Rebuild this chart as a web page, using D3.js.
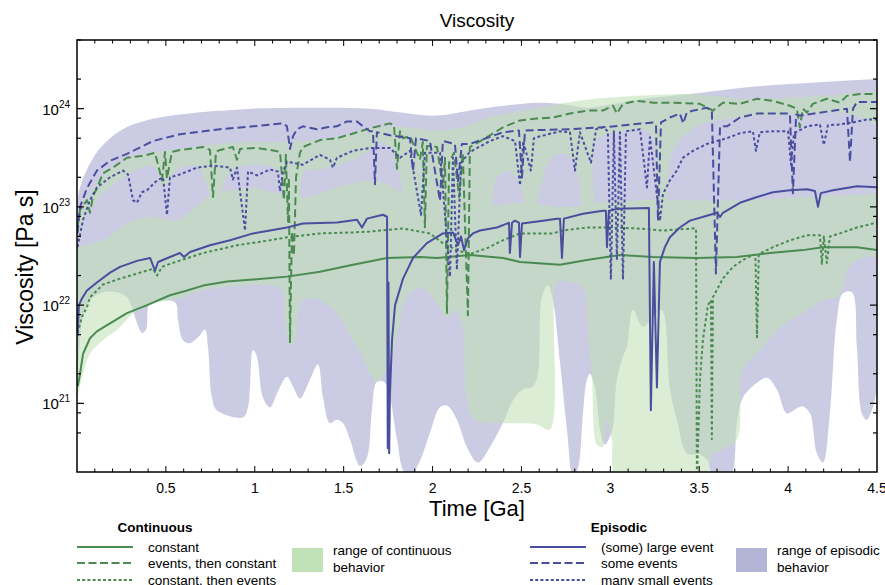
<!DOCTYPE html>
<html>
<head>
<meta charset="utf-8">
<script src="https://cdn.jsdelivr.net/npm/d3@7"></script>
<style>
  body { margin: 0; background: #fff; }
  svg { font-family: "Liberation Sans", Arial, Helvetica, sans-serif; }
</style>
</head>
<body>
<svg id="chart" width="885" height="585"></svg>
<script>
// ---- data: [time Ga, viscosity Pa s] ----
const greenConstant = [[0.005,1.5e21],[0.017,2.0e21],[0.034,3.2e21],[0.073,4.6e21],[0.112,5.4e21],[0.146,5.9e21],[0.202,6.8e21],[0.281,8.3e21],[0.394,1.0e22],[0.523,1.26e22],[0.619,1.41e22],[0.709,1.58e22],[0.844,1.74e22],[0.99,1.82e22],[1.181,1.95e22],[1.367,2.19e22],[1.552,2.57e22],[1.744,3.02e22],[1.929,3.09e22],[2.025,3.02e22],[2.21,3.24e22],[2.396,3.02e22],[2.492,2.75e22],[2.717,2.57e22],[2.868,2.88e22],[3.054,3.24e22],[3.24,3.09e22],[3.487,3.02e22],[3.712,3.09e22],[3.898,3.39e22],[4.083,3.63e22],[4.196,3.89e22],[4.387,3.89e22],[4.5,3.63e22]];

const greenEventsThenConst = [[0.003,6.3e22],[0.017,9.3e22],[0.056,1.17e23],[0.073,8.7e22],[0.09,1.29e23],[0.112,1.55e23],[0.146,2.19e23],[0.202,2.51e23],[0.281,3.16e23],[0.371,3.31e23],[0.439,3.55e23],[0.478,1.86e23],[0.495,3.63e23],[0.506,1.95e23],[0.534,3.63e23],[0.579,3.8e23],[0.709,4.07e23],[0.748,3.8e23],[0.765,1.26e23],[0.782,3.63e23],[0.804,3.8e23],[0.877,4.07e23],[0.9,3.02e23],[0.917,3.89e23],[1.012,3.98e23],[1.086,3.8e23],[1.142,3.63e23],[1.164,1.17e23],[1.175,3.39e23],[1.187,7.1e22],[1.192,2.0e23],[1.198,4.2e21],[1.209,5.6e22],[1.22,3.2e22],[1.232,2.0e23],[1.254,3.55e23],[1.271,4.07e23],[1.367,4.79e23],[1.462,5.0e23],[1.575,5.75e23],[1.648,6.31e23],[1.76,7.08e23],[1.783,6.8e23],[1.8,2.45e23],[1.817,5.9e23],[1.834,5.0e23],[1.873,5.25e23],[1.929,3.02e23],[1.945,4.57e23],[1.957,6.2e22],[1.968,4.17e23],[2.025,4.07e23],[2.058,1.58e23],[2.07,3.16e23],[2.081,8.3e21],[2.093,2.82e23],[2.12,3.55e23],[2.15,1.26e23],[2.17,3.55e23],[2.199,7.9e21],[2.21,4.07e23],[2.306,5.13e23],[2.396,6.46e23],[2.492,7.59e23],[2.587,7.94e23],[2.677,8.13e23],[2.773,8.91e23],[2.868,9.55e23],[2.958,9.55e23],[3.015,1.07e24],[3.037,8.91e23],[3.071,1.12e24],[3.15,1.2e24],[3.24,1.15e24],[3.352,1.15e24],[3.504,1.12e24],[3.577,9.55e23],[3.633,1.15e24],[3.729,1.12e24],[3.825,1.26e24],[3.915,1.2e24],[4.01,1.07e24],[4.049,1.0e24],[4.066,6.46e23],[4.083,1.0e24],[4.106,9.12e23],[4.139,1.12e24],[4.218,1.26e24],[4.291,1.15e24],[4.331,1.35e24],[4.404,1.41e24],[4.5,1.41e24]];

const greenConstThenEvents = [[0.003,5.2e21],[0.028,7.6e21],[0.056,9.5e21],[0.073,1.2e22],[0.112,1.41e22],[0.146,1.62e22],[0.242,1.86e22],[0.427,2.34e22],[0.45,2.0e22],[0.478,2.45e22],[0.523,2.63e22],[0.709,3.39e22],[0.9,4.07e22],[1.086,4.57e22],[1.181,4.9e22],[1.367,5.37e22],[1.552,5.5e22],[1.648,5.62e22],[1.834,6.03e22],[1.985,5.37e22],[2.058,4.27e22],[2.137,3.63e22],[2.21,3.31e22],[2.306,3.8e22],[2.396,4.57e22],[2.492,5.37e22],[2.677,5.37e22],[2.733,5.75e22],[2.868,6.17e22],[2.998,6.17e22],[3.15,6.03e22],[3.296,5.75e22],[3.465,6.03e22],[3.482,6.0e22],[3.487,1.6e20],[3.504,1.74e21],[3.521,4.47e21],[3.549,1.0e22],[3.566,1.12e22],[3.571,4.3e20],[3.577,1.2e22],[3.633,1.86e22],[3.69,2.45e22],[3.746,2.88e22],[3.802,3.24e22],[3.816,3.24e22],[3.825,4.7e21],[3.835,3.31e22],[3.915,3.89e22],[4.01,4.57e22],[4.106,5.13e22],[4.179,5.13e22],[4.19,2.63e22],[4.201,5.0e22],[4.218,2.69e22],[4.235,5.0e22],[4.291,5.37e22],[4.387,6.17e22],[4.5,6.92e22]];

const blueLargeEvent = [[0.003,4.9e21],[0.011,1.0e22],[0.028,1.17e22],[0.056,1.41e22],[0.112,1.7e22],[0.186,2.14e22],[0.242,2.45e22],[0.337,2.82e22],[0.411,3.02e22],[0.439,2.24e22],[0.456,2.75e22],[0.523,3.09e22],[0.579,3.39e22],[0.602,3.09e22],[0.636,3.47e22],[0.748,4.07e22],[0.861,4.57e22],[0.99,5.37e22],[1.086,5.75e22],[1.181,6.17e22],[1.271,6.76e22],[1.462,6.92e22],[1.575,7.41e22],[1.603,6.17e22],[1.631,7.59e22],[1.721,8.32e22],[1.744,7.94e22],[1.748,3.5e20],[1.752,1.7e22],[1.756,3.1e20],[1.76,1.2e21],[1.772,4.4e21],[1.789,1.0e22],[1.834,1.86e22],[1.89,3.02e22],[1.968,4.27e22],[2.058,5.37e22],[2.115,5.5e22],[2.143,4.07e22],[2.16,5.0e22],[2.177,3.63e22],[2.199,4.8e22],[2.227,5.37e22],[2.267,5.75e22],[2.362,6.17e22],[2.418,6.76e22],[2.43,6.9e22],[2.435,3.39e22],[2.447,6.9e22],[2.463,7.24e22],[2.486,6.9e22],[2.492,3.09e22],[2.503,6.76e22],[2.621,7.24e22],[2.7,7.59e22],[2.717,7.59e22],[2.728,3.02e22],[2.739,7.59e22],[2.846,8.51e22],[2.958,9.12e22],[2.975,9.12e22],[2.981,3.89e22],[2.992,9.12e22],[3.037,9.55e22],[3.217,9.77e22],[3.228,8.5e20],[3.245,2.75e22],[3.262,1.45e21],[3.279,2.75e22],[3.307,3.89e22],[3.335,4.9e22],[3.391,6.17e22],[3.448,7.24e22],[3.543,8.13e22],[3.6,8.71e22],[3.617,7.9e22],[3.633,8.71e22],[3.729,1.1e23],[3.825,1.26e23],[3.915,1.41e23],[4.01,1.48e23],[4.106,1.51e23],[4.151,1.45e23],[4.168,1.0e23],[4.184,1.38e23],[4.252,1.48e23],[4.387,1.62e23],[4.5,1.58e23]];

const blueSomeEvents = [[0.003,5.4e22],[0.017,1.0e23],[0.056,1.55e23],[0.112,2.34e23],[0.186,2.95e23],[0.281,3.47e23],[0.427,4.68e23],[0.579,5.5e23],[0.804,6.17e23],[0.99,6.61e23],[1.159,7.08e23],[1.181,6.61e23],[1.198,3.89e23],[1.215,5.25e23],[1.237,6.17e23],[1.271,6.61e23],[1.35,6.17e23],[1.406,6.46e23],[1.462,6.61e23],[1.519,7.41e23],[1.575,7.41e23],[1.609,6.61e23],[1.648,5.89e23],[1.665,5.89e23],[1.676,1.7e23],[1.687,5.75e23],[1.76,5.37e23],[1.873,5.0e23],[1.89,2.34e23],[1.907,5.0e23],[1.985,4.68e23],[2.042,1.15e23],[2.058,4.68e23],[2.126,4.37e23],[2.143,1.82e23],[2.165,4.37e23],[2.21,4.37e23],[2.396,5.75e23],[2.486,6.0e23],[2.503,2.0e23],[2.52,6.0e23],[2.773,6.17e23],[2.958,6.46e23],[3.24,7.24e23],[3.257,6.76e23],[3.268,7.2e22],[3.285,7.24e23],[3.335,8.13e23],[3.391,8.91e23],[3.41,7.08e23],[3.43,9.12e23],[3.465,9.55e23],[3.543,1.02e24],[3.571,9.55e23],[3.594,2.1e22],[3.617,6.61e23],[3.656,6.61e23],[3.729,8.13e23],[3.825,8.91e23],[4.01,8.91e23],[4.027,1.38e23],[4.045,8.7e23],[4.066,8.51e23],[4.218,9.33e23],[4.331,1.0e24],[4.348,2.88e23],[4.365,1.0e24],[4.387,1.17e24],[4.5,1.17e24]];

const blueManySmall = [[0.003,3.9e22],[0.034,7.4e22],[0.073,1.17e23],[0.112,1.58e23],[0.186,2.0e23],[0.259,2.34e23],[0.287,2.14e23],[0.315,1.17e23],[0.337,1.1e23],[0.365,1.41e23],[0.394,1.48e23],[0.45,1.86e23],[0.484,2.0e23],[0.506,8.3e22],[0.523,2.0e23],[0.579,2.14e23],[0.675,2.51e23],[0.765,2.63e23],[0.861,2.51e23],[0.877,1.9e23],[0.9,2.51e23],[0.945,5.75e22],[0.962,2.29e23],[1.012,2.09e23],[1.086,2.4e23],[1.13,2.29e23],[1.142,1.45e23],[1.159,2.29e23],[1.181,2.88e23],[1.271,2.69e23],[1.367,3.39e23],[1.423,3.02e23],[1.44,2.51e23],[1.462,3.16e23],[1.552,3.72e23],[1.648,3.98e23],[1.76,3.98e23],[1.817,3.16e23],[1.873,3.72e23],[1.935,8.3e22],[1.957,3.55e23],[2.042,3.55e23],[2.098,1.95e22],[2.115,3.16e23],[2.137,2.29e22],[2.16,2.82e23],[2.21,3.63e23],[2.323,4.68e23],[2.396,5.25e23],[2.464,4.68e23],[2.492,1.66e23],[2.51,4.68e23],[2.553,2.34e23],[2.57,5.0e23],[2.587,5.13e23],[2.717,5.89e23],[2.773,5.75e23],[2.801,2.34e23],[2.829,5.75e23],[2.891,2.82e23],[2.92,6.17e23],[2.958,6.46e23],[2.986,5.89e23],[3.003,1.82e22],[3.02,5.89e23],[3.037,2.88e22],[3.054,5.75e23],[3.071,1.82e22],[3.088,5.89e23],[3.167,6.17e23],[3.206,1.58e23],[3.223,5.13e23],[3.279,7.2e22],[3.296,1.35e23],[3.335,1.86e23],[3.374,2.34e23],[3.408,3.16e23],[3.465,3.72e23],[3.543,4.37e23],[3.6,4.68e23],[3.656,5.0e23],[3.729,5.62e23],[3.802,5.89e23],[3.819,3.72e23],[3.841,5.75e23],[3.915,5.89e23],[4.0,5.89e23],[4.016,2.69e23],[4.033,5.62e23],[4.106,6.61e23],[4.179,6.92e23],[4.201,4.27e23],[4.224,6.76e23],[4.291,6.92e23],[4.365,7.24e23],[4.444,7.76e23],[4.5,7.76e23]];

// range bands (upper / lower boundaries)
const episodicTop = [[0,1.1e23],[0.017,1.58e23],[0.056,2.4e23],[0.112,3.6e23],[0.186,5.0e23],[0.281,6.5e23],[0.427,7.9e23],[0.619,8.9e23],[0.804,9.5e23],[0.99,1.0e24],[1.367,1.02e24],[1.648,1.0e24],[1.834,9.1e23],[2.025,8.5e23],[2.21,9.6e23],[2.396,1.07e24],[2.587,1.15e24],[2.717,1.12e24],[2.868,1.02e24],[2.958,1.07e24],[3.15,1.23e24],[3.352,1.35e24],[3.543,1.48e24],[3.729,1.62e24],[3.915,1.74e24],[4.106,1.82e24],[4.291,1.91e24],[4.5,2.0e24]];

const episodicBottom = [[0,1.38e21],[0.017,4.4e21],[0.034,7.9e21],[0.073,1.12e22],[0.146,1.35e22],[0.225,1.35e22],[0.281,1.2e22],[0.309,9.5e21],[0.337,6.6e21],[0.366,5.2e21],[0.388,5.6e21],[0.399,9.5e21],[0.411,1.05e22],[0.551,1.07e22],[0.568,7.1e21],[0.596,4.4e21],[0.636,4.1e21],[0.681,4.7e21],[0.72,5.6e21],[0.737,3.7e21],[0.759,1.15e21],[0.787,8.5e20],[0.934,7.2e20],[0.962,9.1e20],[0.99,3.5e21],[1.012,3.0e21],[1.046,1.15e21],[1.086,9.1e20],[1.125,1.26e21],[1.181,1.86e21],[1.215,1.48e21],[1.254,1.12e21],[1.31,1.74e21],[1.355,2.5e21],[1.384,1.15e21],[1.423,6.3e20],[1.462,6.8e20],[1.496,6.3e20],[1.535,4.3e20],[1.592,2.3e20],[1.631,2.8e20],[1.659,8.5e20],[1.687,1.66e21],[1.732,1.62e21],[1.8,4.3e20],[1.834,2.1e20],[1.873,1.8e20],[1.929,2.6e20],[1.985,5.0e20],[2.042,9.1e20],[2.081,9.5e20],[2.137,6.8e20],[2.193,3.6e20],[2.255,2.5e20],[2.323,3.6e20],[2.396,6.3e20],[2.452,1.07e21],[2.508,1.38e21],[2.565,1.48e21],[2.593,2.0e21],[2.615,1.2e22],[2.649,1.6e22],[2.677,1.12e22],[2.717,2.6e21],[2.756,5.4e20],[2.79,1.8e20],[2.818,2.2e20],[2.846,7.9e20],[2.868,1.74e21],[2.885,2.0e21],[2.913,1.48e21],[2.942,5.4e20],[2.97,3.8e20],[2.998,4.6e20],[3.015,5.8e20],[3.037,1.74e21],[3.071,3.0e21],[3.093,3.7e21],[3.127,8.9e21],[3.183,6.0e21],[3.24,7.6e21],[3.29,8.9e21],[3.335,1.38e21],[3.375,6.8e20],[3.431,3.1e20],[3.504,3.0e20],[3.549,2.6e20],[3.571,1.8e20],[3.673,1.8e20],[3.712,6.3e20],[3.746,1.15e21],[3.825,1.62e21],[3.881,1.82e21],[3.937,1.38e21],[3.993,7.9e20],[4.05,8.9e20],[4.083,9.3e20],[4.123,7.9e20],[4.162,3.1e20],[4.196,2.5e20],[4.235,7.9e20],[4.274,7.1e21],[4.308,1.32e22],[4.359,1.35e22],[4.387,3.7e21],[4.415,7.9e20],[4.443,6.8e20],[4.477,9.1e20],[4.5,1.38e21]];

const contUpperTop = [[0,6.5e22],[0.017,8.3e22],[0.073,1.32e23],[0.129,1.95e23],[0.242,2.8e23],[0.354,3.4e23],[0.523,3.8e23],[0.709,4.2e23],[0.9,4.5e23],[1.181,4.6e23],[1.462,5.1e23],[1.648,6.3e23],[1.834,6.5e23],[2.025,6.0e23],[2.171,6.5e23],[2.306,8.1e23],[2.396,8.7e23],[2.548,9.8e23],[2.7,1.11e24],[2.868,1.23e24],[3.054,1.32e24],[3.24,1.38e24],[3.448,1.41e24],[3.617,1.32e24],[3.729,1.26e24],[4.106,1.32e24],[4.387,1.45e24],[4.5,1.48e24]];

const contUpperBottom = [[0,4.1e22],[0.034,7.4e22],[0.112,1.17e23],[0.186,1.58e23],[0.337,2.4e23],[0.411,2.6e23],[0.45,2.4e23],[0.484,1.58e23],[0.523,1.86e23],[0.562,2.4e23],[0.675,2.6e23],[0.72,1.86e23],[0.748,1.38e23],[0.787,1.17e23],[0.821,1.66e23],[0.861,2.2e23],[0.934,2.6e23],[1.086,2.6e23],[1.142,2.2e23],[1.159,1.17e23],[1.181,5.0e21],[1.215,3.9e21],[1.237,5.6e21],[1.254,1.17e23],[1.282,2.3e23],[1.367,2.4e23],[1.552,3.0e23],[1.648,3.8e23],[1.704,4.5e23],[1.76,4.1e23],[1.817,2.1e23],[1.873,3.6e22],[2.042,2.9e22],[2.21,3.6e22],[2.323,7.4e22],[2.362,2.0e23],[2.435,2.3e23],[2.492,1.66e23],[2.548,5.8e22],[2.604,1.48e23],[2.66,3.0e23],[2.717,3.5e23],[2.773,3.2e23],[2.818,2.1e23],[2.857,6.5e22],[2.902,5.8e22],[2.925,4.8e23],[3.054,5.8e23],[3.223,5.65e23],[3.268,1.05e23],[3.307,9.3e22],[3.352,3.8e23],[3.504,6.8e23],[3.729,8.1e23],[4.066,8.7e23],[4.291,9.1e23],[4.404,8.1e23],[4.5,6.8e23]];

const contLowerTop = [[0,3.9e22],[0.146,4.6e22],[0.298,7.1e22],[0.411,7.9e22],[0.562,7.4e22],[0.709,1.17e23],[0.765,1.38e23],[0.861,1.48e23],[0.99,1.58e23],[1.125,1.38e23],[1.271,1.26e23],[1.367,1.38e23],[1.462,1.58e23],[1.648,1.86e23],[1.76,1.66e23],[1.873,1.17e23],[2.042,1.17e23],[2.21,1.1e23],[2.362,1.05e23],[2.492,1.1e23],[2.604,1.05e23],[2.717,1.0e23],[2.829,1.02e23],[2.942,1.1e23],[3.167,1.17e23],[3.352,1.17e23],[3.729,1.17e23],[4.106,1.26e23],[4.5,1.38e23]];

const contLowerBottom = [[0,1.07e21],[0.034,2.0e21],[0.073,3.2e21],[0.146,4.4e21],[0.225,5.6e21],[0.281,7.1e21],[0.337,8.9e21],[0.394,1.02e22],[0.562,1.15e22],[0.709,1.41e22],[0.99,1.6e22],[1.142,1.48e22],[1.17,7.1e21],[1.198,3.9e21],[1.232,5.6e21],[1.271,1.12e22],[1.367,1.12e22],[1.462,8.3e21],[1.552,4.4e21],[1.609,3.0e21],[1.648,2.0e21],[1.693,1.66e21],[1.76,2.6e21],[1.817,6.6e21],[1.856,1.2e22],[1.929,1.5e22],[2.013,1.12e22],[2.081,7.4e21],[2.126,8.9e21],[2.171,5.6e21],[2.193,1.07e21],[2.238,6.8e20],[2.396,6.3e20],[2.587,6.1e20],[2.66,5.4e20],[2.683,1.12e22],[2.7,1.7e22],[2.846,1.5e22],[2.868,7.1e21],[2.897,1.74e21],[2.925,3.8e20],[2.958,3.6e20],[2.981,6.8e20],[3.009,4.3e20],[3.037,1.8e20],[3.532,1.8e20],[3.571,3.0e20],[3.617,3.3e20],[3.712,4.3e20],[3.746,2.2e21],[3.858,3.7e21],[3.937,5.6e21],[4.083,8.3e21],[4.196,1.12e22],[4.274,1.2e22],[4.364,2.7e22],[4.46,3.1e22],[4.5,3.0e22]];

const xTickLabels = [0.5, 1, 1.5, 2, 2.5, 3, 3.5, 4, 4.5];
const yTickLabels = [1e21, 1e22, 1e23, 1e24];

// ---- layout ----
const svg = d3.select("#chart");
const plot = {left: 77, right: 877, top: 40, bottom: 472};
const green = "#4b8b51", blue = "#4a4e9e";
const greenFill = "#c0e2b6", blueFill = "#b3b3d6";

const x = d3.scaleLinear().domain([0, 4.5]).range([plot.left, plot.right]);
const y = d3.scaleLog().domain([2e20, 5e24]).range([plot.bottom, plot.top]);

svg.append("defs").append("clipPath").attr("id", "clip")
    .append("rect")
    .attr("x", plot.left).attr("y", plot.top)
    .attr("width", plot.right - plot.left).attr("height", plot.bottom - plot.top);

const smooth = d3.line().x(d => x(d[0])).y(d => y(d[1])).curve(d3.curveCatmullRom.alpha(0.5));
const band = (top, bottom) => smooth(top) + "L" + smooth(bottom.slice().reverse()).slice(1) + "Z";

const plotArea = svg.append("g").attr("clip-path", "url(#clip)");

// bands
plotArea.append("g").attr("opacity", 0.68)
    .append("path").attr("d", band(episodicTop, episodicBottom)).attr("fill", blueFill);

const gBand = plotArea.append("g").attr("opacity", 0.56);
gBand.append("path").attr("d", band(contUpperTop, contUpperBottom)).attr("fill", greenFill);
gBand.append("path").attr("d", band(contLowerTop, contLowerBottom)).attr("fill", greenFill);

// lines
const line = d3.line().x(d => x(d[0])).y(d => y(d[1]));
const series = [
    {data: greenConstant, color: green, dash: null},
    {data: greenConstThenEvents, color: green, dash: "3,2.5"},
    {data: greenEventsThenConst, color: green, dash: "8,4"},
    {data: blueLargeEvent, color: blue, dash: null},
    {data: blueManySmall, color: blue, dash: "3,2.5"},
    {data: blueSomeEvents, color: blue, dash: "8,4"}
];
plotArea.selectAll("path.series")
    .data(series).enter()
    .append("path")
    .attr("class", "series")
    .attr("d", d => line(d.data))
    .attr("fill", "none")
    .attr("stroke", d => d.color)
    .attr("stroke-width", 2)
    .attr("stroke-linejoin", "round")
    .attr("stroke-dasharray", d => d.dash);

// frame + ticks
const axes = svg.append("g").attr("stroke", "#000");
axes.append("rect")
    .attr("x", plot.left).attr("y", plot.top)
    .attr("width", plot.right - plot.left).attr("height", plot.bottom - plot.top)
    .attr("fill", "none").attr("stroke-width", 1.5);

const xTicks = d3.range(1, 45).map(i => i / 10);
xTicks.forEach(t => {
    const major = Math.abs(t * 2 - Math.round(t * 2)) < 1e-6;
    const len = major ? 6 : 3.5;
    axes.append("line").attr("x1", x(t)).attr("x2", x(t))
        .attr("y1", plot.bottom).attr("y2", plot.bottom - len).attr("stroke-width", 1);
    axes.append("line").attr("x1", x(t)).attr("x2", x(t))
        .attr("y1", plot.top).attr("y2", plot.top + len).attr("stroke-width", 1);
});

const yMinor = [];
[20, 21, 22, 23, 24].forEach(e => [2, 5, 8].forEach(m => {
    const v = m * Math.pow(10, e);
    if (v > 2e20 && v < 5e24) yMinor.push(v);
}));
const yTickAll = yTickLabels.map(v => ({v, len: 7})).concat(yMinor.map(v => ({v, len: 4})));
yTickAll.forEach(d => {
    axes.append("line").attr("x1", plot.left).attr("x2", plot.left + d.len)
        .attr("y1", y(d.v)).attr("y2", y(d.v)).attr("stroke-width", 1.2);
    axes.append("line").attr("x1", plot.right).attr("x2", plot.right - d.len)
        .attr("y1", y(d.v)).attr("y2", y(d.v)).attr("stroke-width", 1.2);
});

// tick labels
svg.append("g").selectAll("text")
    .data(xTickLabels).enter()
    .append("text")
    .attr("x", d => x(d)).attr("y", 493)
    .attr("text-anchor", "middle")
    .attr("font-size", 14)
    .text(d => d);

const yl = svg.append("g").selectAll("text")
    .data(yTickLabels).enter()
    .append("text")
    .attr("x", 70).attr("y", d => y(d) + 6)
    .attr("text-anchor", "end")
    .attr("font-size", 15);
yl.append("tspan").text("10");
yl.append("tspan").attr("dy", -7).attr("font-size", 10).text(d => Math.round(Math.log10(d)));

// titles
svg.append("text").attr("x", 477).attr("y", 27).attr("text-anchor", "middle")
    .attr("font-size", 19).text("Viscosity");
svg.append("text").attr("x", 477).attr("y", 516).attr("text-anchor", "middle")
    .attr("font-size", 22).text("Time [Ga]");
svg.append("text").attr("transform", "translate(33,267) rotate(-90)")
    .attr("text-anchor", "middle").attr("font-size", 23).text("Viscosity [Pa s]");

// legend
const legendGroups = [
    {title: "Continuous", tx: 155, lx: 77, textX: 148, color: green, fill: greenFill, sx: 292,
     labels: ["constant", "events, then constant", "constant, then events"],
     range: ["range of continuous", "behavior"]},
    {title: "Episodic", tx: 619, lx: 530, textX: 601, color: blue, fill: blueFill, sx: 736,
     labels: ["(some) large event", "some events", "many small events"],
     range: ["range of episodic", "behavior"]}
];
const dashes = [null, "8,3.5", "3,2.2"];
const rowY = [547, 563, 580];
legendGroups.forEach(g => {
    const lg = svg.append("g").attr("font-size", 13.5);
    lg.append("text").attr("x", g.tx).attr("y", 532).attr("text-anchor", "middle")
        .attr("font-weight", "bold").text(g.title);
    g.labels.forEach((lab, i) => {
        lg.append("line").attr("x1", g.lx).attr("x2", g.lx + 56)
            .attr("y1", rowY[i]).attr("y2", rowY[i])
            .attr("stroke", g.color).attr("stroke-width", 2)
            .attr("stroke-dasharray", dashes[i]);
        lg.append("text").attr("x", g.textX).attr("y", rowY[i] + 4.5).text(lab);
    });
    lg.append("rect").attr("x", g.sx).attr("y", 548).attr("width", 31).attr("height", 24)
        .attr("fill", g.fill);
    g.range.forEach((r, i) => {
        lg.append("text").attr("x", g.sx + 41).attr("y", 555 + i * 16.5).text(r);
    });
});
</script>
</body>
</html>
